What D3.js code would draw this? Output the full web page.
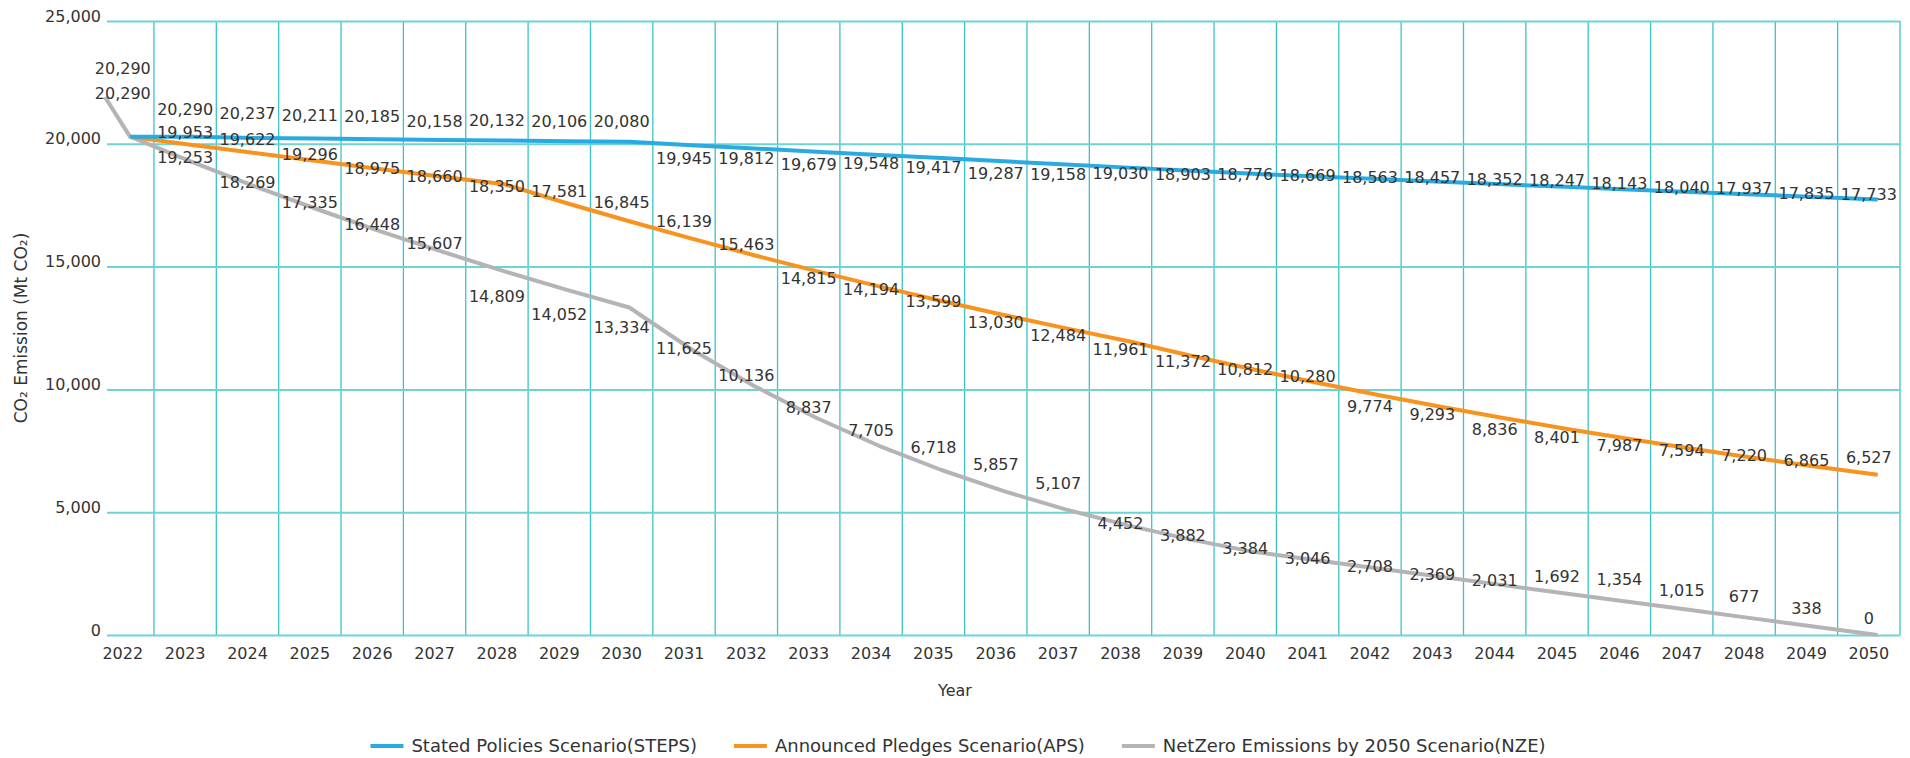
<!DOCTYPE html>
<html>
<head>
<meta charset="utf-8">
<script src="https://cdn.jsdelivr.net/npm/d3@7"></script>
<style>
  html, body { margin: 0; padding: 0; background: #ffffff; }
  svg { display: block; font-family: "DejaVu Sans", sans-serif; }
</style>
</head>
<body>
<svg id="chart" width="1910" height="758"></svg>
<script>
// ---------------- data ----------------
const years = [2022, 2023, 2024, 2025, 2026, 2027, 2028, 2029, 2030, 2031, 2032, 2033, 2034, 2035,
               2036, 2037, 2038, 2039, 2040, 2041, 2042, 2043, 2044, 2045, 2046, 2047, 2048, 2049, 2050];

const steps = [20290, 20290, 20237, 20211, 20185, 20158, 20132, 20106, 20080, 19945, 19812, 19679, 19548, 19417,
               19287, 19158, 19030, 18903, 18776, 18669, 18563, 18457, 18352, 18247, 18143, 18040, 17937, 17835, 17733];

const aps = [20290, 19953, 19622, 19296, 18975, 18660, 18350, 17581, 16845, 16139, 15463, 14815, 14194, 13599,
             13030, 12484, 11961, 11372, 10812, 10280, 9774, 9293, 8836, 8401, 7987, 7594, 7220, 6865, 6527];

const nze = [20290, 19253, 18269, 17335, 16448, 15607, 14809, 14052, 13334, 11625, 10136, 8837, 7705, 6718,
             5857, 5107, 4452, 3882, 3384, 3046, 2708, 2369, 2031, 1692, 1354, 1015, 677, 338, 0];

// the grey line in the picture starts with a short lead-in segment before 2022
const nzeLeadIn = [{ year: 2021.6, value: 21900 }];

const yTicks = [0, 5000, 10000, 15000, 20000, 25000];

const seriesNames = ["Stated Policies Scenario(STEPS)", "Announced Pledges Scenario(APS)", "NetZero Emissions by 2050 Scenario(NZE)"];

// ---------------- layout / style ----------------
// vertical nudges of the value labels (px, relative to each value's position)
const stepsLabelDy = [-68, -27, -25, -23, -23, -19, -20, -20, -21, 13, 10, 13, 8, 9, 12, 9.5, 6, 3, 0, -1, -2, -4, -5, -7, -6, -5, -6, -4, -5];
const apsLabelDy   = [-43, -13, -14, -7, -1, 0, 2, -11.5, -18.6, -17, -11, 7, 3, 0, 7, 7, 8, 6, 0, -6, 11, 7, 11, 9, 6, 2, -2, -6, -17];
const nzeLabelDy   = [-43, -5, -4, -7, -7, -8, 25, 24, 20, -1, -11, -11, -16, -23, -27, -26, -2, -4, -4, -2, -2, -3, -5, -17, -23, -20, -22, -18, -17];

const colors = ["#29abe2", "#f7931e", "#b4b4b6"];
const textColor = "#333333";
const gridH = "#6ed3d3";
const gridV = "#3cc3c6";

const W = 1910, H = 758;
const plotLeft = 107, plotRight = 1900, plotTop = 21, plotBottom = 635;

const svg = d3.select("#chart");

const xBand = d3.scaleBand().domain(years).range([91.6, plotRight]).padding(0);
const xLine = d3.scaleLinear().domain([2022, 2050]).range([130, 1877.7]);
const y = d3.scaleLinear().domain([0, 25000]).range([plotBottom, plotTop]);
const fmt = d3.format(",");

// ---------------- grid ----------------
const gGrid = svg.append("g");
gGrid.selectAll("line.v").data(years).join("line")
  .attr("class", "v")
  .attr("x1", d => xBand(d) + xBand.bandwidth())
  .attr("x2", d => xBand(d) + xBand.bandwidth())
  .attr("y1", plotTop).attr("y2", plotBottom)
  .attr("stroke", gridV).attr("stroke-width", 1.3);

// y axis with horizontal gridlines
const yAxis = d3.axisLeft(y).tickValues(yTicks).tickFormat(fmt)
  .tickSize(-(plotRight - plotLeft)).tickPadding(6);
const gy = svg.append("g").attr("transform", `translate(${plotLeft},0)`).call(yAxis);
gy.select(".domain").remove();
gy.selectAll(".tick line").attr("stroke", gridH).attr("stroke-width", 2);
gy.selectAll(".tick text")
  .attr("dy", "0").attr("y", 0)
  .attr("fill", textColor).attr("font-size", 16)
  .attr("font-family", "DejaVu Sans, sans-serif");

// x axis
const xAxis = d3.axisBottom(xBand).tickSize(0).tickPadding(0);
const gx = svg.append("g").attr("transform", `translate(0,${plotBottom})`).call(xAxis);
gx.select(".domain").remove();
gx.selectAll(".tick text")
  .attr("y", 24).attr("dy", "0")
  .attr("fill", textColor).attr("font-size", 16)
  .attr("font-family", "DejaVu Sans, sans-serif");

// ---------------- lines ----------------
const line = d3.line().x(d => xLine(d.year)).y(d => y(d.value));

const seriesData = [
  years.map((yr, i) => ({ year: yr, value: steps[i] })),
  years.map((yr, i) => ({ year: yr, value: aps[i] })),
  nzeLeadIn.concat(years.map((yr, i) => ({ year: yr, value: nze[i] })))
];

// draw grey first, then orange, then blue on top
[2, 1, 0].forEach(s => {
  svg.append("path")
    .datum(seriesData[s])
    .attr("d", line)
    .attr("fill", "none")
    .attr("stroke", colors[s])
    .attr("stroke-width", 4)
    .attr("stroke-linejoin", "round");
});

// ---------------- value labels ----------------
const labelSets = [
  { values: steps, dy: stepsLabelDy },
  { values: aps, dy: apsLabelDy },
  { values: nze, dy: nzeLabelDy }
];
const gLab = svg.append("g")
  .attr("font-size", 16).attr("fill", textColor).attr("text-anchor", "middle");
const placed = new Set();
labelSets.forEach(set => {
  const items = years.map((yr, i) => ({
    x: xBand(yr) + xBand.bandwidth() / 2,
    y: y(set.values[i]) + set.dy[i],
    t: fmt(set.values[i])
  })).filter(d => {
    // identical labels that fall on the same spot are drawn once
    const key = `${Math.round(d.x)}|${Math.round(d.y)}|${d.t}`;
    if (placed.has(key)) return false;
    placed.add(key);
    return true;
  });
  gLab.append("g").selectAll("text").data(items).join("text")
    .attr("x", d => d.x)
    .attr("y", d => d.y)
    .attr("dy", "0.36em")
    .text(d => d.t);
});

// ---------------- axis titles ----------------
svg.append("text")
  .attr("x", W / 2).attr("y", 696)
  .attr("text-anchor", "middle").attr("font-size", 16).attr("fill", textColor)
  .text("Year");

svg.append("text")
  .attr("transform", `translate(27,${(plotTop + plotBottom) / 2}) rotate(-90)`)
  .attr("text-anchor", "middle").attr("font-size", 17).attr("fill", textColor)
  .text("CO\u2082 Emission (Mt CO\u2082)");

// ---------------- legend ----------------
const legY = 746, swLen = 33, swGap = 8, itemGap = 37;
const gLeg = svg.append("g");
const items = seriesNames.map((name, i) => {
  const g = gLeg.append("g");
  g.append("line").attr("x1", 0).attr("x2", swLen).attr("y1", legY).attr("y2", legY)
    .attr("stroke", colors[i]).attr("stroke-width", 4);
  const t = g.append("text").attr("x", swLen + swGap).attr("y", legY).attr("dy", "0.36em")
    .attr("font-size", 18).attr("fill", textColor).text(name);
  return { g, w: swLen + swGap + t.node().getComputedTextLength() };
});
const total = d3.sum(items, d => d.w) + itemGap * (items.length - 1);
let cx = 958 - total / 2;
items.forEach(it => {
  it.g.attr("transform", `translate(${cx},0)`);
  cx += it.w + itemGap;
});
</script>
</body>
</html>
